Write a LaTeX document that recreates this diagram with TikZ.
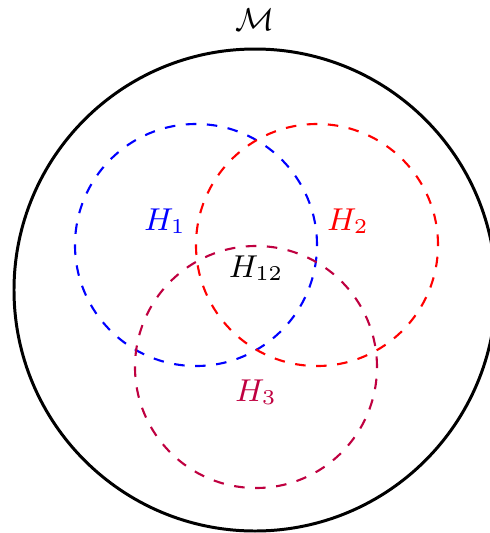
\documentclass[tikz,border=0pt]{standalone}
\usepackage{amsmath,amssymb}
\usepackage{tikz}
\usetikzlibrary{positioning}
\tikzset{
  manifold/.style={draw=black,line width=.85pt},
  patch/.style={dashed,line width=.6pt},
  patchlabel/.style={inner sep=1pt,font=\small}
}

\begin{document}
\begin{tikzpicture}
        \useasboundingbox (-2.55,-2.43) rectangle (2.35,2.90);
        % ambient manifold
        \draw[manifold] (0,0) circle (2.41);
        \node[patchlabel] (M) at (0,2.70) {$\mathcal{M}$};
        % coordinate patches
        \draw[patch,blue] (-0.59,0.45) circle (1.21);
        \draw[patch,red] (0.62,0.45) circle (1.21);
        \draw[patch,purple] (0.01,-0.77) circle (1.21);
        \node[patchlabel,text=blue] (h1) at (-0.90,0.69) {$H_1$};
        \node[patchlabel,text=red] (h2) at (0.93,0.69) {$H_2$};
        \node[patchlabel] (h12) at (0.01,0.22) {$H_{12}$};
        \node[patchlabel,text=purple] (h3) at (0.01,-1.02) {$H_3$};
      \end{tikzpicture}
\end{document}
